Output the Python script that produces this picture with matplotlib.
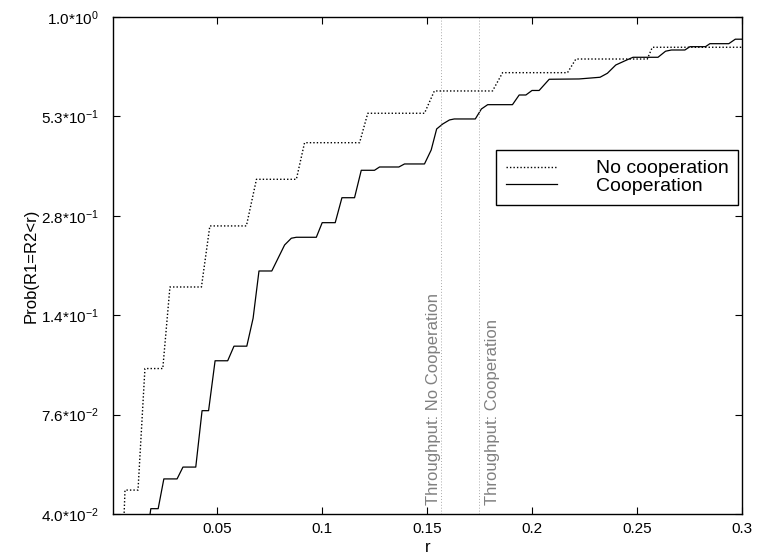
import numpy as np
import matplotlib
matplotlib.use('Agg')
from matplotlib import pyplot as plt
import matplotlib.transforms as mtransforms

plt.rcParams['font.family'] = ['Liberation Sans', 'DejaVu Sans']
plt.rcParams['mathtext.default'] = 'regular'

# No cooperation (staircase)
r_nocoop = [0.0055, 0.0062, 0.0124, 0.0157, 0.0242, 0.0276, 0.0426, 0.0466, 0.0640,
            0.0688, 0.0878, 0.0917, 0.1179, 0.1218, 0.1488, 0.1535, 0.1812, 0.1860,
            0.2169, 0.2209, 0.2549, 0.2573, 0.3000]
p_nocoop = [0.036, 0.0467, 0.0467, 0.1026, 0.1026, 0.1740, 0.1740, 0.2584, 0.2584,
            0.3495, 0.3495, 0.4430, 0.4430, 0.5360, 0.5360, 0.6193, 0.6193, 0.6972,
            0.6972, 0.7617, 0.7617, 0.8219, 0.8219]

# Cooperation
r_coop = [0.0171, 0.0185, 0.0220, 0.0247, 0.0310, 0.0338, 0.0399, 0.0429, 0.0460,
          0.0491, 0.0551, 0.0581, 0.0642, 0.0672, 0.0700, 0.0761, 0.0822, 0.0854,
          0.0878, 0.0973, 0.1001, 0.1063, 0.1095, 0.1155, 0.1187, 0.1250, 0.1274,
          0.1366, 0.1393, 0.1488, 0.1520, 0.1546, 0.1575, 0.1607, 0.1630, 0.1730,
          0.1759, 0.1789, 0.1907, 0.1939, 0.1971, 0.2000, 0.2034, 0.2082, 0.2224,
          0.2324, 0.2359, 0.2399, 0.2446, 0.2481, 0.2600, 0.2636, 0.2664, 0.2728,
          0.2752, 0.2826, 0.2847, 0.2937, 0.2968, 0.3000]
p_coop = [0.0361, 0.0414, 0.0414, 0.0502, 0.0502, 0.0542, 0.0542, 0.0781, 0.0781,
          0.1079, 0.1079, 0.1186, 0.1186, 0.1421, 0.1930, 0.1930, 0.2284, 0.2386,
          0.2401, 0.2401, 0.2639, 0.2639, 0.3102, 0.3102, 0.3705, 0.3705, 0.3785,
          0.3785, 0.3860, 0.3860, 0.4226, 0.4842, 0.5001, 0.5133, 0.5166, 0.5166,
          0.5511, 0.5667, 0.5667, 0.6034, 0.6034, 0.6213, 0.6213, 0.6681, 0.6694,
          0.6768, 0.6945, 0.7328, 0.7545, 0.7703, 0.7703, 0.8012, 0.8075, 0.8075,
          0.8250, 0.8250, 0.8412, 0.8412, 0.8660, 0.8660]

thr_nocoop = 0.1568
thr_coop = 0.1746

y_ticks = np.geomspace(0.04, 1.0, 6)
y_tick_labels = ['4.0*10$^{-2}$', '7.6*10$^{-2}$', '1.4*10$^{-1}$',
                 '2.8*10$^{-1}$', '5.3*10$^{-1}$', '1.0*10$^{0}$']
x_ticks = [0.05, 0.1, 0.15, 0.2, 0.25, 0.3]
x_tick_labels = ['0.05', '0.1', '0.15', '0.2', '0.25', '0.3']

fig = plt.figure(figsize=(7.57, 5.55), dpi=100)
ax = fig.add_axes([0.1493, 0.0739, 0.8309, 0.8955])

ax.plot(r_nocoop, p_nocoop, color='black', lw=1.0, ls=(0, (1, 1.5)), label='No cooperation')
ax.plot(r_coop, p_coop, '-', color='black', lw=0.9, label='Cooperation')

ax.axvline(thr_nocoop, color='#aaaaaa', lw=0.7, ls=(0, (1, 2)))
ax.axvline(thr_coop, color='#aaaaaa', lw=0.7, ls=(0, (1, 2)))
trans = mtransforms.blended_transform_factory(ax.transData, ax.transAxes)
ax.text(thr_nocoop - 0.0003, 0.018, 'Throughput: No Cooperation', rotation=90,
        ha='right', va='bottom', color='#808080', fontsize=12, transform=trans)
ax.text(thr_coop + 0.003, 0.018, 'Throughput: Cooperation', rotation=90,
        ha='left', va='bottom', color='#808080', fontsize=12, transform=trans)

ax.set_yscale('log')
ax.set_xlim(0.0005, 0.3)
ax.set_ylim(0.04, 1.0)
ax.set_yticks(y_ticks)
ax.set_yticklabels(y_tick_labels)
ax.set_xticks(x_ticks)
ax.set_xticklabels(x_tick_labels)
ax.minorticks_off()
ax.tick_params(direction='in', length=5, width=0.8, top=True, right=True, labelsize=11)
ax.tick_params(axis='y', pad=10)
ax.tick_params(axis='x', pad=6)
for s in ax.spines.values():
    s.set_linewidth(1.0)

ax.set_xlabel('r', fontsize=12, labelpad=3)
ax.set_ylabel('Prob(R1=R2<r)', fontsize=12, labelpad=2)

leg = ax.legend(loc='upper right', bbox_to_anchor=(0.9936, 0.7324), fontsize=14,
                fancybox=False, framealpha=1, edgecolor='black', handlelength=2.6,
                handletextpad=2.0, labelspacing=0.0, borderpad=0.5, borderaxespad=0)
leg.get_frame().set_linewidth(1.0)

fig.savefig('out.png', dpi=100)
